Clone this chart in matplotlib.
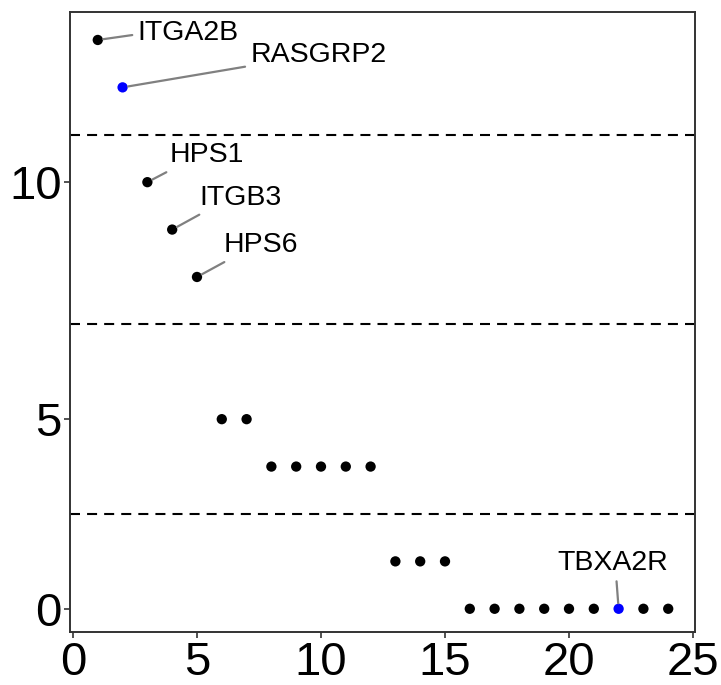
import matplotlib
matplotlib.use("Agg")
import matplotlib.pyplot as plt

plt.rcParams['font.family'] = ['Liberation Sans', 'DejaVu Sans']

# ---- data ----
rank = [1, 2, 3, 4, 5, 6, 7, 8, 9, 10, 11, 12, 13, 14, 15, 16, 17, 18, 19, 20, 21, 22, 23, 24]
score = [13, 12, 10, 9, 8, 5, 5, 4, 4, 4, 4, 4, 2, 2, 2, 1, 1, 1, 1, 1, 1, 1, 1, 1]
highlight = [2, 22]
gene_rank = [1, 2, 3, 4, 5, 22]
gene_name = ['ITGA2B', 'RASGRP2', 'HPS1', 'ITGB3', 'HPS6', 'TBXA2R']
thresholds = [11, 7, 3]
ytick_pos = [1, 5, 10]
ytick_lab = ['0', '5', '10']
xtick_pos = [0, 5, 10, 15, 20, 25]

# label placement (pixel offsets from the point, ha, relpos of leader line)
label_style = {
    'ITGA2B': ((40, 7), 'left', (0.0, 0.45)),
    'RASGRP2': ((128, 32), 'left', (0.0, 0.1)),
    'HPS1': ((22, 27), 'left', (0.13, 0.1)),
    'ITGB3': ((27, 32), 'left', (0.15, 0.1)),
    'HPS6': ((27, 32), 'left', (0.17, 0.1)),
    'TBXA2R': ((-6, 46), 'center', (0.53, 0.1)),
}

fig = plt.figure(figsize=(7.21, 6.85), dpi=100)
ax = fig.add_axes([70 / 721, 53 / 685, 625 / 721, 620 / 685])

for t in thresholds:
    ax.axhline(t, color='black', lw=1.5, ls=(0, (4.8, 3.4)), zorder=1)

colors = ['#0000FF' if r in highlight else 'black' for r in rank]
ax.scatter(rank, score, s=55, c=colors, edgecolors='none', zorder=3)

for r, name in zip(gene_rank, gene_name):
    (dx, dy), ha, rp = label_style[name]
    yv = score[rank.index(r)]
    ax.annotate(name, xy=(r, yv), xytext=(dx, dy), textcoords='offset pixels',
                ha=ha, va='center', fontsize=20.5, color='black',
                arrowprops=dict(arrowstyle='-', color='#808080', lw=1.6,
                                shrinkA=2, shrinkB=4, relpos=rp),
                zorder=4)

ax.set_xlim(-0.12, 25.08)
ax.set_ylim(0.51, 13.59)
ax.set_xticks(xtick_pos)
ax.set_xticklabels([str(v) for v in xtick_pos])
ax.set_yticks(ytick_pos)
ax.set_yticklabels(ytick_lab)

for sp in ax.spines.values():
    sp.set_color('#333333')
    sp.set_linewidth(1.4)
ax.tick_params(axis='both', direction='out', length=4.3, width=1.2,
               color='#333333', labelsize=34, labelcolor='black')
ax.tick_params(axis='y', pad=1.5)
ax.tick_params(axis='x', pad=2)

fig.savefig('out.png', dpi=100)
